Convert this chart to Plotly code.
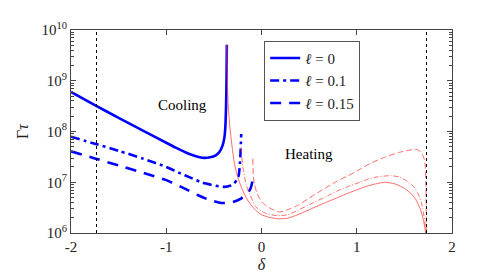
import plotly.graph_objects as go

# ---------------- data ----------------
# Cooling branch (blue), l = 0
cool0_d = [-2.0, -1.75, -1.5, -1.25, -1.0, -0.90, -0.80, -0.72, -0.66, -0.60, -0.54, -0.48,
           -0.44, -0.41, -0.39, -0.38, -0.372, -0.367, -0.364]
cool0_g = [6.0e8, 3.3e8, 1.86e8, 1.05e8, 6.0e7, 4.8e7, 3.9e7, 3.4e7, 3.15e7, 3.02e7,
           3.1e7, 3.4e7, 4.0e7, 5.2e7, 7.5e7, 1.2e8, 3.2e8, 1.1e9, 5.1e9]

# Cooling branch (blue), l = 0.1
cool1_d = [-2.0, -1.75, -1.5, -1.25, -1.0, -0.87, -0.74, -0.62, -0.53, -0.45, -0.39, -0.33,
           -0.29, -0.26, -0.24, -0.225, -0.213]
cool1_g = [7.9e7, 5.75e7, 4.17e7, 2.95e7, 2.0e7, 1.55e7, 1.22e7, 9.8e6, 8.9e6, 8.3e6,
           8.1e6, 8.5e6, 9.3e6, 1.12e7, 1.35e7, 2.5e7, 8.9e7]

# Cooling branch (blue), l = 0.15
cool2_d = [-2.0, -1.75, -1.5, -1.25, -1.0, -0.8, -0.67, -0.55, -0.45, -0.39, -0.30, -0.22,
           -0.16, -0.12, -0.10, -0.091]
cool2_g = [4.07e7, 2.95e7, 2.14e7, 1.55e7, 1.1e7, 7.4e6, 5.6e6, 4.5e6, 4.0e6, 3.9e6,
           4.1e6, 4.7e6, 6.0e6, 7.2e6, 9.5e6, 1.29e7]

# Heating branch (red), l = 0
heat0_d = [-0.364, -0.358, -0.350, -0.335, -0.31, -0.285, -0.25, -0.20, -0.15, -0.10, -0.05,
           0.0, 0.08, 0.17, 0.27, 0.38, 0.55, 0.70, 0.80, 0.90, 1.0, 1.1, 1.2, 1.29, 1.4,
           1.5, 1.57, 1.62, 1.67, 1.70, 1.72, 1.732]
heat0_g = [5.1e9, 1.0e9, 3.55e8, 1.41e8, 5.25e7, 2.4e7, 1.26e7, 7.1e6, 4.57e6, 3.39e6,
           2.69e6, 2.29e6, 2.04e6, 1.91e6, 1.95e6, 2.29e6, 3.16e6, 4.17e6, 5.0e6, 6.0e6,
           7.1e6, 8.3e6, 9.3e6, 1.0e7, 9.3e6, 7.6e6, 6.0e6, 4.57e6, 2.88e6, 1.78e6,
           1.12e6, 8.0e5]

# Heating branch (red), l = 0.1
heat1_d = [-0.213, -0.196, -0.16, -0.126, -0.06, 0.014, 0.10, 0.17, 0.28, 0.38, 0.55, 0.70,
           0.80, 0.90, 1.0, 1.1, 1.2, 1.36, 1.45, 1.53, 1.60, 1.65, 1.68, 1.70, 1.72, 1.732]
heat1_g = [4.9e7, 2.0e7, 9.0e6, 6.0e6, 3.3e6, 2.6e6, 2.3e6, 2.19e6, 2.3e6, 2.8e6, 4.0e6,
           5.5e6, 6.8e6, 8.1e6, 9.5e6, 1.12e7, 1.26e7, 1.35e7, 1.26e7, 1.05e7, 8.1e6,
           5.6e6, 3.9e6, 2.5e6, 1.41e6, 8.0e5]

# Heating branch (red), l = 0.15
heat2_d = [-0.091, -0.085, -0.075, -0.05, -0.02, 0.014, 0.10, 0.19, 0.28, 0.38, 0.55, 0.70,
           0.80, 0.90, 1.0, 1.15, 1.3, 1.45, 1.58, 1.64, 1.68, 1.71, 1.72, 1.725, 1.73, 1.732]
heat2_g = [2.9e7, 1.26e7, 9.5e6, 6.3e6, 4.8e6, 3.9e6, 3.0e6, 2.6e6, 2.9e6, 3.5e6, 5.6e6,
           8.3e6, 1.07e7, 1.32e7, 1.66e7, 2.4e7, 3.16e7, 3.9e7, 4.37e7, 4.37e7, 3.8e7,
           2.8e7, 2.0e7, 1.0e7, 3.2e6, 8.0e5]

resonance = [-1.732, 1.732]

legend_names = ["<i>ℓ</i> = 0", "<i>ℓ</i> = 0.1", "<i>ℓ</i> = 0.15"]
x_ticks = [-2, -1, 0, 1, 2]
x_ticktext = ["-2", "-1", "0", "1", "2"]
y_ticks = [1e6, 1e7, 1e8, 1e9, 1e10]
y_ticktext = ["10<sup>6</sup>", "10<sup>7</sup>", "10<sup>8</sup>", "10<sup>9</sup>", "10<sup>10</sup>"]
y_minor = [m * 10 ** e for e in range(6, 10) for m in range(2, 10)]

# ---------------- figure ----------------
BLUE = "#0000ff"
RED = "rgba(255,70,70,0.8)"
FONT = "Liberation Serif"

fig = go.Figure()

blue_sets = [(cool0_d, cool0_g, "solid"), (cool1_d, cool1_g, "9px,4px,3px,4px"),
             (cool2_d, cool2_g, "11px,8px")]
for (d, g, dash), name in zip(blue_sets, legend_names):
    fig.add_trace(go.Scatter(x=d, y=g, mode="lines", name=name,
                             line=dict(color=BLUE, width=2.6, dash=dash, shape="spline",
                                       smoothing=0.6)))

red_sets = [(heat0_d, heat0_g, "solid"), (heat1_d, heat1_g, "5px,2px,1px,2px"),
            (heat2_d, heat2_g, "6px,3px")]
for d, g, dash in red_sets:
    fig.add_trace(go.Scatter(x=d, y=g, mode="lines", showlegend=False,
                             line=dict(color=RED, width=1, dash=dash, shape="spline",
                                       smoothing=0.6)))

for xv in resonance:
    fig.add_shape(type="line", xref="x", yref="paper", x0=xv, x1=xv, y0=0, y1=1,
                  line=dict(color="black", width=1, dash="dot"))

fig.add_annotation(x=-0.83, y=8.52, text="Cooling", showarrow=False,
                   font=dict(family=FONT, size=15, color="black"))
fig.add_annotation(x=0.50, y=7.55, text="Heating", showarrow=False,
                   font=dict(family=FONT, size=15, color="black"))

axis_common = dict(showline=True, mirror="ticks", linecolor="#444444", linewidth=1,
                   ticks="inside", ticklen=5, tickcolor="#444444", showgrid=False,
                   zeroline=False, tickfont=dict(family=FONT, size=15, color="#222222"))

fig.update_layout(
    width=491, height=274,
    margin=dict(l=63, r=47, t=21, b=47),
    paper_bgcolor="white", plot_bgcolor="white",
    font=dict(family=FONT, size=14, color="#222222"),
    xaxis=dict(range=[-2, 2], tickvals=x_ticks, ticktext=x_ticktext,
               title=dict(text="<i>δ</i>", font=dict(family=FONT, size=16), standoff=4),
               **axis_common),
    yaxis=dict(type="log", range=[6, 10], tickvals=y_ticks, ticktext=y_ticktext,
               minor=dict(tickmode="array", tickvals=y_minor, ticks="inside", ticklen=3,
                          tickcolor="#444444", showgrid=False),
               title=dict(text="Γ<i>τ</i>", font=dict(family=FONT, size=16), standoff=8),
               **axis_common),
    legend=dict(x=0.507, y=0.947, xanchor="left", yanchor="top",
                bgcolor="white", bordercolor="#555555", borderwidth=1,
                font=dict(family=FONT, size=15, color="#222222"),
                itemwidth=30, tracegroupgap=0),
    showlegend=True,
)

fig.write_html("out.html")
